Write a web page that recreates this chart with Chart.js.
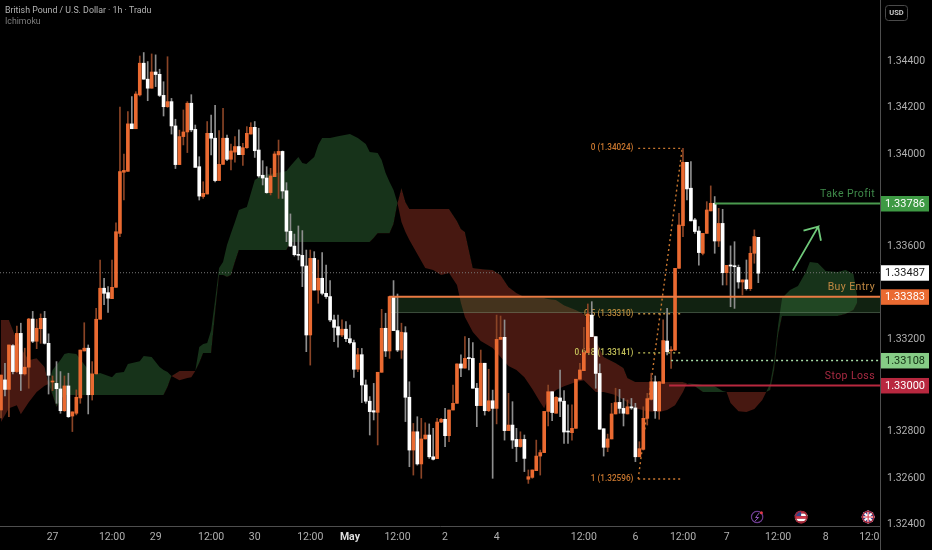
<!DOCTYPE html>
<html>
<head>
<meta charset="utf-8">
<style>html,body{margin:0;padding:0;background:#000}canvas{display:block}</style>
<script src="https://cdn.jsdelivr.net/npm/chart.js@4"></script>
</head>
<body>
<canvas id="c" width="932" height="550"></canvas>
<script>
const opens = [
1.32894,1.33024,1.32983,1.33172,1.33060,1.33225,1.33050,1.33079,1.33287,1.33191,
1.33245,1.33290,1.33182,1.33015,1.33009,1.32985,1.32891,1.32998,1.32868,1.32880,
1.32946,1.33149,1.33161,1.32960,1.33050,1.33286,1.33420,1.33401,1.33375,1.33424,
1.33657,1.33921,1.33925,1.34130,1.34109,1.34255,1.34392,1.34323,1.34284,1.34354,
1.34344,1.34253,1.34204,1.34226,1.34121,1.33954,1.34075,1.34095,1.34219,1.34106,
1.33945,1.33816,1.33827,1.34089,1.34068,1.33885,1.33955,1.34068,1.33977,1.34008,
1.34032,1.33997,1.34027,1.34086,1.34115,1.34017,1.33908,1.33896,1.33833,1.33902,
1.33996,1.34011,1.33841,1.33666,1.33602,1.33565,1.33562,1.33516,1.33218,1.33549,
1.33412,1.33463,1.33398,1.33384,1.33283,1.33254,1.33218,1.33243,1.33202,1.33185,
1.33070,1.33133,1.33002,1.32932,1.32891,1.32884,1.33057,1.33247,1.33149,1.33381,
1.33237,1.33153,1.33228,1.32949,1.32721,1.32800,1.32661,1.32769,1.32786,1.32692,
1.32684,1.32842,1.32854,1.32783,1.32894,1.32923,1.33093,1.33075,1.33117,1.33117,
1.32988,1.32913,1.33096,1.32891,1.32934,1.32901,1.33199,1.33208,1.32805,1.32829,
1.32767,1.32736,1.32767,1.32595,1.32603,1.32632,1.32695,1.32710,1.32888,1.32973,
1.32880,1.32946,1.32932,1.32802,1.32796,1.32815,1.33027,1.33064,1.33142,1.33304,
1.33211,1.33052,1.32813,1.32733,1.32769,1.32877,1.32927,1.32901,1.32877,1.32908,
1.32903,1.32692,1.32724,1.32858,1.32940,1.33016,1.32890,1.33009,1.33192,1.33150,
1.33153,1.33506,1.33690,1.33964,1.33852,1.33715,1.33667,1.33571,1.33657,1.33754,
1.33787,1.33624,1.33700,1.33487,1.33519,1.33516,1.33510,1.33447,1.33456,1.33418,
1.33571,1.33640];
const closes = [
1.33045,1.32983,1.33175,1.33060,1.33225,1.33050,1.33079,1.33287,1.33191,1.33247,
1.33290,1.33182,1.33044,1.33017,1.32986,1.32891,1.32998,1.32865,1.32886,1.32949,
1.33153,1.33161,1.32960,1.33050,1.33286,1.33420,1.33398,1.33377,1.33424,1.33664,
1.33924,1.33929,1.34130,1.34109,1.34259,1.34392,1.34323,1.34284,1.34354,1.34343,
1.34253,1.34204,1.34226,1.34121,1.33954,1.34075,1.34095,1.34219,1.34104,1.33942,
1.33818,1.33830,1.34089,1.34068,1.33885,1.33955,1.34068,1.33977,1.34013,1.34032,
1.33997,1.34027,1.34089,1.34115,1.34014,1.33905,1.33896,1.33833,1.33905,1.34000,
1.34011,1.33840,1.33666,1.33602,1.33565,1.33562,1.33516,1.33218,1.33549,1.33412,
1.33463,1.33398,1.33384,1.33283,1.33251,1.33218,1.33243,1.33202,1.33185,1.33070,
1.33133,1.33002,1.32932,1.32887,1.32885,1.33057,1.33247,1.33149,1.33384,1.33237,
1.33153,1.33230,1.32949,1.32721,1.32800,1.32661,1.32769,1.32786,1.32692,1.32681,
1.32842,1.32854,1.32783,1.32894,1.32923,1.33093,1.33075,1.33117,1.33116,1.32988,
1.32913,1.33096,1.32891,1.32934,1.32901,1.33199,1.33208,1.32805,1.32829,1.32764,
1.32736,1.32767,1.32685,1.32606,1.32635,1.32695,1.32710,1.32888,1.32973,1.32883,
1.32949,1.32932,1.32799,1.32799,1.32815,1.33027,1.33067,1.33142,1.33309,1.33211,
1.33052,1.32811,1.32733,1.32769,1.32877,1.32926,1.32901,1.32880,1.32908,1.32903,
1.32692,1.32727,1.32858,1.32943,1.33016,1.32891,1.33016,1.33194,1.33146,1.33153,
1.33506,1.33693,1.33964,1.33849,1.33711,1.33665,1.33574,1.33657,1.33758,1.33787,
1.33624,1.33700,1.33487,1.33519,1.33516,1.33513,1.33447,1.33456,1.33418,1.33571,
1.33643,1.33485];
const highs = [
1.33045,1.33096,1.33175,1.33177,1.33257,1.33269,1.33161,1.33290,1.33320,1.33286,
1.33309,1.33320,1.33223,1.33041,1.33103,1.33060,1.33041,1.33053,1.32886,1.32981,
1.33153,1.33271,1.33175,1.33103,1.33333,1.33542,1.33463,1.33427,1.33542,1.33703,
1.34202,1.33999,1.34183,1.34248,1.34269,1.34423,1.34438,1.34399,1.34432,1.34428,
1.34366,1.34312,1.34420,1.34240,1.34150,1.34103,1.34190,1.34226,1.34256,1.34125,
1.33988,1.33880,1.34140,1.34168,1.34210,1.34101,1.34197,1.34082,1.34043,1.34075,
1.34104,1.34046,1.34118,1.34135,1.34140,1.34111,1.33971,1.33945,1.33938,1.34010,
1.34060,1.34013,1.33876,1.33741,1.33654,1.33689,1.33669,1.33585,1.33585,1.33578,
1.33542,1.33574,1.33520,1.33453,1.33304,1.33304,1.33283,1.33276,1.33261,1.33196,
1.33160,1.33160,1.33024,1.32952,1.33009,1.33057,1.33329,1.33312,1.33384,1.33453,
1.33395,1.33269,1.33254,1.33016,1.32836,1.32865,1.32858,1.32839,1.32834,1.32815,
1.32858,1.32858,1.32901,1.32894,1.33002,1.33093,1.33132,1.33211,1.33204,1.33185,
1.33009,1.33153,1.33096,1.33070,1.32980,1.33304,1.33300,1.33283,1.32966,1.32930,
1.32815,1.32800,1.32786,1.32635,1.32635,1.32764,1.32721,1.32888,1.33002,1.32973,
1.32952,1.33067,1.32978,1.32916,1.32916,1.33027,1.33096,1.33251,1.33352,1.33362,
1.33211,1.33093,1.32813,1.32790,1.32923,1.32988,1.32983,1.32944,1.32937,1.32944,
1.32923,1.32757,1.32908,1.32966,1.33052,1.33041,1.33016,1.33283,1.33333,1.33168,
1.33506,1.33744,1.34024,1.33964,1.33967,1.33722,1.33686,1.33657,1.33794,1.33862,
1.33816,1.33765,1.33761,1.33519,1.33603,1.33621,1.33520,1.33456,1.33542,1.33600,
1.33672,1.33640];
const lows = [
1.32860,1.32955,1.32865,1.33050,1.33055,1.32978,1.33045,1.32988,1.33185,1.33159,
1.33182,1.33179,1.32963,1.32978,1.32923,1.32880,1.32888,1.32862,1.32801,1.32873,
1.32923,1.33149,1.32877,1.32937,1.33050,1.33286,1.33349,1.33315,1.33375,1.33424,
1.33643,1.33801,1.33925,1.34109,1.34109,1.34250,1.34323,1.34230,1.34284,1.34291,
1.34248,1.34164,1.34201,1.34086,1.33937,1.33954,1.34039,1.34006,1.34096,1.33942,
1.33801,1.33808,1.33827,1.33996,1.33879,1.33885,1.33955,1.33971,1.33931,1.33964,
1.33997,1.33951,1.34024,1.34086,1.33985,1.33899,1.33866,1.33830,1.33823,1.33902,
1.33808,1.33808,1.33621,1.33600,1.33559,1.33542,1.33427,1.33146,1.33088,1.33412,
1.33355,1.33391,1.33376,1.33276,1.33189,1.33165,1.33211,1.33189,1.33179,1.33035,
1.33060,1.32926,1.32923,1.32786,1.32851,1.32743,1.33057,1.33125,1.33117,1.33237,
1.33146,1.33117,1.32844,1.32649,1.32613,1.32656,1.32599,1.32769,1.32685,1.32678,
1.32684,1.32839,1.32736,1.32757,1.32894,1.32923,1.33038,1.33075,1.33067,1.32988,
1.32822,1.32913,1.32872,1.32887,1.32599,1.32834,1.33199,1.32764,1.32805,1.32728,
1.32671,1.32733,1.32628,1.32577,1.32599,1.32632,1.32613,1.32710,1.32825,1.32848,
1.32880,1.32865,1.32750,1.32750,1.32764,1.32815,1.33027,1.33064,1.33142,1.33211,
1.32988,1.32811,1.32695,1.32714,1.32769,1.32877,1.32880,1.32825,1.32877,1.32897,
1.32671,1.32692,1.32721,1.32829,1.32937,1.32858,1.32854,1.33009,1.33132,1.33074,
1.33150,1.33506,1.33643,1.33801,1.33711,1.33657,1.33520,1.33564,1.33657,1.33754,
1.33571,1.33600,1.33434,1.33434,1.33340,1.33333,1.33420,1.33391,1.33412,1.33410,
1.33528,1.33444];

const cloudBars = [0,2,4,5,7,9,11,12,13,14,15,16,17,19,23,25,28,29,31,32,35,36,38,40,41,42,43,45,47,48,49,
50,51,52,53,54,55,56,57,58,59,60,62,64,66,68,71,72,73,75,76,77,79,80,81,83,85,88,90,92,93,94,95,96,97,98,99,100,
101,102,103,105,107,109,111,113,115,116,117,119,121,124,126,128,130,132,134,136,137,138,140,142,145,147,149,150,152,155,157,158,160,163,166,168,170,172,173,
175,177,180,182,183,184,186,188,190,192,193,194,195,196,197,199,201,203,204,206,208,211,213,214,215,216];
const spanA = [1.32842,1.32902,1.32915,1.32876,1.32928,1.32972,1.32999,1.33006,1.33067,1.33088,1.33110,1.33136,1.33140,1.33136,1.33045,1.33054,1.33036,1.33054,1.33058,1.33093,1.33105,1.33127,1.33123,1.33080,1.33067,1.33058,1.33041,1.33023,1.33032,1.33036,1.33062,
1.33166,1.33179,1.33183,1.33239,1.33369,1.33507,1.33533,1.33607,1.33658,1.33706,1.33758,1.33771,1.33887,1.33909,1.33913,1.33922,1.33926,1.33948,1.33987,1.33961,1.33957,1.33987,1.34039,1.34069,1.34069,1.34077,1.34086,1.34069,1.34043,1.34008,1.34006,1.34004,1.33974,1.33918,1.33879,1.33844,1.33788,
1.33706,1.33663,1.33628,1.33568,1.33507,1.33499,1.33477,1.33486,1.33434,1.33356,1.33296,1.33231,1.33192,1.33162,1.33123,1.33084,1.33067,1.33036,1.32985,1.32928,1.32902,1.32946,1.32980,1.32997,1.33015,1.33023,1.32989,1.32972,1.32972,1.32959,1.32937,1.32928,1.32902,1.32889,1.32885,1.32894,1.32915,1.32972,1.33010,
1.33006,1.33002,1.32997,1.32976,1.32972,1.32924,1.32889,1.32885,1.32898,1.32937,1.32972,1.33010,1.33105,1.33261,1.33378,1.33412,1.33430,1.33490,1.33533,1.33529,1.33494,1.33490,1.33499,1.33490,1.33481,1.33378];
const spanB = [1.33283,1.33283,1.33196,1.33162,1.33110,1.33118,1.33080,1.33006,1.32959,1.32907,1.32937,1.32959,1.32959,1.32959,1.32959,1.32959,1.32959,1.32959,1.32959,1.32959,1.32959,1.32959,1.32959,1.32959,1.32959,1.32993,1.33041,1.33062,1.33062,1.33062,1.33062,
1.33097,1.33140,1.33140,1.33140,1.33313,1.33477,1.33477,1.33468,1.33477,1.33533,1.33585,1.33585,1.33585,1.33585,1.33585,1.33585,1.33585,1.33620,1.33620,1.33620,1.33620,1.33620,1.33620,1.33620,1.33620,1.33620,1.33620,1.33620,1.33620,1.33620,1.33637,1.33658,1.33658,1.33658,1.33658,1.33697,1.33788,
1.33853,1.33792,1.33762,1.33762,1.33762,1.33762,1.33762,1.33762,1.33710,1.33676,1.33663,1.33507,1.33503,1.33499,1.33477,1.33425,1.33399,1.33382,1.33378,1.33378,1.33378,1.33373,1.33369,1.33347,1.33326,1.33309,1.33261,1.33196,1.33123,1.33097,1.33075,1.33032,1.33015,1.33015,1.33015,1.33015,1.33015,1.33015,1.33010,
1.32997,1.32972,1.32972,1.32972,1.32972,1.32972,1.32972,1.32972,1.32972,1.32972,1.32972,1.32980,1.33067,1.33218,1.33300,1.33300,1.33300,1.33300,1.33300,1.33300,1.33300,1.33300,1.33309,1.33317,1.33326,1.33360];

const yTicks = [1.344,1.342,1.34,1.336,1.332,1.328,1.326,1.324];
const xTickBars = [13,28,39,53,64,78,88,100,112,125,147,160,172,183,196,208,219];
const xTickLabels = ['27','12:00','29','12:00','30','12:00','May','12:00','2','4','12:00','6','12:00','7','12:00','8','12:0'];

const takeProfit = 1.33786, buyEntry = 1.33383, zoneLow = 1.33315, stopLoss = 1.33, midLevel = 1.33108, lastPrice = 1.33487;
const lastBar = 221.69, firstBar = -0.25;
const fibLevels = [1.34024,1.3331,1.33141,1.32596];
const fibNames = ['0 (1.34024)','0.5 (1.33310)','0.618 (1.33141)','1 (1.32596)'];
const fibColors = ['#c9772f','#b8893c','#c4c25a','#c9772f'];
const arrowBars = [199.7,206.1,202.4,206.1,206.8];
const arrowPrices = [1.33496,1.33686,1.33669,1.33686,1.33625];
const fibBars = [160.7,171.8];

const ORANGE='#ea6a31', WHITE='#ffffff';
const xy=(xs,ys)=>xs.map((x,i)=>({x,y:ys[i]}));
const bars=closes.map((_,i)=>i);
const line=(data,color,width,dash,order,extra)=>Object.assign({type:'line',data,borderColor:color,borderWidth:width,borderDash:dash||[],pointRadius:0,tension:0,fill:false,order},extra||{});

const datasets=[
 line(xy(cloudBars,spanA),'rgba(0,0,0,0)',0,[],100,{fill:{target:'+1',above:'#17331a',below:'#471811'}}),
 line(xy(cloudBars,spanB),'rgba(0,0,0,0)',0,[],101),
 line(xy([97.9,lastBar],[buyEntry,buyEntry]),'rgba(0,0,0,0)',0,[],90,{fill:{target:'+1',above:'rgba(64,125,64,0.27)',below:'rgba(64,125,64,0.27)'}}),
 line(xy([97.9,lastBar],[zoneLow,zoneLow]),'rgba(150,175,150,0.4)',1,[],91),
 line(xy([firstBar,lastBar],[lastPrice,lastPrice]),'#777777',1,[1,2],80),
];
fibLevels.forEach((p,k)=>datasets.push(line(xy(fibBars,[p,p]),fibColors[k],1.4,[2,3],70)));
datasets.push(line(xy([160.7,171.8],[fibLevels[3],fibLevels[0]]),'#c9772f',1.4,[2,3],70));
const wickIndex=datasets.length;
datasets.push({type:'bar',data:bars.map(i=>({x:i,y:[lows[i],highs[i]]})),
 backgroundColor:bars.map(i=>closes[i]>=opens[i]?'#8a4426':'#8e8e8e'),barThickness:1,grouped:false,minBarLength:1,borderWidth:0,order:40});
datasets.push({type:'bar',data:bars.map(i=>({x:i,y:[opens[i],closes[i]]})),
 backgroundColor:bars.map(i=>closes[i]>=opens[i]?ORANGE:WHITE),barThickness:3,grouped:false,minBarLength:1,borderWidth:0,order:30});
datasets.push(line(xy([97.9,lastBar],[buyEntry,buyEntry]),'#e97a43',2,[],20));
datasets.push(line(xy([180,lastBar],[takeProfit,takeProfit]),'#4a9a4e',2,[],20));
datasets.push(line(xy([168.5,lastBar],[stopLoss,stopLoss]),'#b8283f',2,[],20));
datasets.push(line(xy([169,lastBar],[midLevel,midLevel]),'#a5dca5',1.6,[2,3],20));
datasets.push(line(xy(arrowBars,arrowPrices),'#6fc97a',1.8,[],20));

const annotate={
 id:'annotate',
 beforeDatasetDraw(chart,args){
  if(args.index!==wickIndex) return;
  const c=chart.ctx,sx=chart.scales.x,sy=chart.scales.y;
  c.save();c.font='500 8.2px Roboto';c.textAlign='right';c.textBaseline='middle';
  fibLevels.forEach((p,k)=>{c.fillStyle=fibColors[k];c.fillText(fibNames[k],sx.getPixelForValue(159.5),sy.getPixelForValue(p));});
  c.restore();
 },
 afterDraw(chart){
  const c=chart.ctx,sx=chart.scales.x,sy=chart.scales.y;
  const A=chart.chartArea;
  c.save();
  c.fillStyle='#000';c.fillRect(A.right+1,A.bottom+1,52,24);
  c.strokeStyle='#4e4e4e';c.lineWidth=1;
  c.beginPath();c.moveTo(A.right+.5,A.bottom);c.lineTo(A.right+.5,550);c.stroke();
  c.textBaseline='middle';c.textAlign='right';
  const names=[['Take Profit',takeProfit,'#3f8a4a'],['Buy Entry',buyEntry,'#c08842'],['Stop Loss',stopLoss,'#a82a42']];
  c.font='10.5px Roboto';
  try{c.letterSpacing='0.4px';}catch(e){}
  names.forEach(([t,p,col])=>{c.fillStyle=col;c.fillText(t,A.right-5,sy.getPixelForValue(p)-9);});
  try{c.letterSpacing='0px';}catch(e){}
  const tags=[[takeProfit,'#3e9a44','#ffffff'],[lastPrice,'#ffffff','#1a1a1a'],[buyEntry,'#ea6a31','#ffffff'],[midLevel,'#86cc86','#123012'],[stopLoss,'#b8283f','#ffffff']];
  c.font='11px Roboto';c.textAlign='center';
  tags.forEach(([p,bg,fg])=>{const y=sy.getPixelForValue(p);c.fillStyle=bg;c.fillRect(A.right+1,y-7.5,48,15.5);c.fillStyle=fg;c.fillText(p.toFixed(5),A.right+25,y+.5);});
  c.textAlign='left';c.font='8.8px Roboto';c.fillStyle='#b4b4b4';c.fillText('British Pound / U.S. Dollar · 1h · Tradu',5,11);
  c.font='8.7px Roboto';c.fillStyle='#7e7e7e';c.fillText('Ichimoku',5,22);
  c.strokeStyle='#4a4a4a';c.beginPath();c.roundRect(885.5,5.5,22,15,3);c.stroke();
  c.font='bold 7.5px Roboto';c.fillStyle='#c8c8c8';c.textAlign='center';c.fillText('USD',896.5,13);
  const icon=(bar,draw)=>{const x=sx.getPixelForValue(bar),y=517;c.save();c.beginPath();c.arc(x,y,6.5,0,7);c.fillStyle='#000';c.fill();c.clip();draw(x,y);c.restore();};
  icon(190.7,(x,y)=>{c.strokeStyle='#6b3a8c';c.lineWidth=1.4;c.beginPath();c.arc(x,y,5.8,0,7);c.stroke();c.strokeStyle='#8e56b8';c.lineWidth=1;c.beginPath();c.moveTo(x+2,y-4);c.lineTo(x-1.5,y+.5);c.lineTo(x+1.5,y+.5);c.lineTo(x-2,y+4);c.stroke();});
  c.fillStyle='#e0394a';c.beginPath();c.arc(sx.getPixelForValue(190.7)+4.3,512.8,1.5,0,7);c.fill();
  icon(201.8,(x,y)=>{for(let k=0;k<5;k++){c.fillStyle=k%2?'#ffffff':'#d8344a';c.fillRect(x-7,y-6+k*2.6,14,2.6);}c.fillStyle='#34448c';c.fillRect(x-7,y-7,7,6);c.strokeStyle='#a32838';c.lineWidth=1.5;c.beginPath();c.arc(x,y,5.8,0,7);c.stroke();});
  icon(218.7,(x,y)=>{c.fillStyle='#34448c';c.fillRect(x-7,y-7,14,14);c.strokeStyle='#ffffff';c.lineWidth=2;c.beginPath();c.moveTo(x-7,y-7);c.lineTo(x+7,y+7);c.moveTo(x+7,y-7);c.lineTo(x-7,y+7);c.moveTo(x,y-7);c.lineTo(x,y+7);c.moveTo(x-7,y);c.lineTo(x+7,y);c.stroke();c.strokeStyle='#d8344a';c.lineWidth=1;c.beginPath();c.moveTo(x,y-7);c.lineTo(x,y+7);c.moveTo(x-7,y);c.lineTo(x+7,y);c.stroke();c.strokeStyle='#a32838';c.lineWidth=1.5;c.beginPath();c.arc(x,y,5.8,0,7);c.stroke();});
  c.restore();
 }
};

const noPad=s=>{s.paddingTop=0;s.paddingBottom=0;s.paddingLeft=0;s.paddingRight=0;};
new Chart(document.getElementById('c'),{
 type:'bar',
 data:{datasets},
 plugins:[annotate],
 options:{
  responsive:false,animation:false,devicePixelRatio:1,events:[],
  layout:{padding:0},
  plugins:{legend:{display:false},tooltip:{enabled:false},title:{display:false}},
  scales:{
   x:{type:'linear',min:firstBar,max:lastBar,offset:false,
      grid:{display:false,drawTicks:false},border:{color:'#4e4e4e'},
      afterFit(s){s.height=24;noPad(s);},
      afterBuildTicks(s){s.ticks=xTickBars.map(v=>({value:v}));},
      ticks:{autoSkip:false,maxRotation:0,minRotation:0,padding:5,
        callback:v=>xTickLabels[xTickBars.indexOf(v)],
        color:ctx=>ctx.tick&&ctx.tick.label==='May'?'#dddddd':'#b0b0b0',
        font:ctx=>({family:'Roboto',size:10.5,weight:ctx.tick&&ctx.tick.label==='May'?'bold':'normal'})}},
   y:{type:'linear',position:'right',min:1.32393,max:1.34665,
      grid:{display:false,drawTicks:false},border:{color:'#4e4e4e'},
      afterFit(s){s.width=52;noPad(s);},
      afterBuildTicks(s){s.ticks=yTicks.map(v=>({value:v}));},
      ticks:{autoSkip:false,padding:7,callback:v=>v.toFixed(5),color:'#b0b0b0',font:{family:'Roboto',size:10.5}}}
  }
 }
});
</script>
</body>
</html>
